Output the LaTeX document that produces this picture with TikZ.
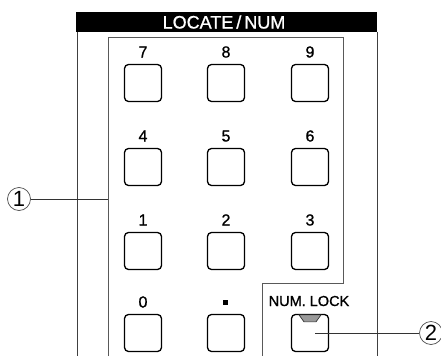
\documentclass[tikz,border=0pt]{standalone}
\usepackage{fontspec}
\setmainfont{Liberation Sans}
\newfontfamily\lblfont[FakeBold=1.0]{Liberation Sans}
\begin{document}
\begin{tikzpicture}[x=1pt,y=-1pt,
  keybox/.style={draw=black, line width=1.3pt, rounded corners=4pt, minimum width=37pt, minimum height=37pt, inner sep=0pt},
  lbl/.style={font=\lblfont\fontsize{16}{16}\selectfont, inner sep=0pt, anchor=base},
  panel/.style={draw=black!75, line width=0.9pt},
  callout/.style={circle, draw=black!70, line width=0.7pt, minimum size=23pt, inner sep=0pt, font=\fontsize{22}{22}\selectfont},
  leader/.style={draw=black!80, line width=0.8pt}]
\useasboundingbox (0,0) rectangle (441,356);
% header
\fill[black] (76,12) rectangle (377,32);
\node[text=white, font=\lblfont\fontsize{18}{18}\selectfont, inner sep=0pt, anchor=base] (hdr) at (224,28.5) {LOCATE\,/\,NUM};
% outer panel
\draw[panel] (77,32) -- (77,356);
\draw[panel] (377,32) -- (377,356);
% inner frame
\draw[panel, draw=black!65] (108,356) -- (108,37) -- (343,37) -- (343,283) -- (262,283) -- (262,356);
% keys
\foreach \n/\x/\y in {7/143/83, 8/226/83, 9/310/83, 4/143/167, 5/226/167, 6/310/167, 1/143/251, 2/226/251, 3/310/251, 0/143/333}{
  \node[keybox] (k\n) at (\x,\y) {};
  \node[lbl] (l\n) at (\x,\y-25.5) {\n};
}
\node[keybox] (kdot) at (226,333) {};
\node[fill=black, minimum size=5pt, inner sep=0pt] (ldot) at (225,302) {};
\node[keybox] (nlk) at (310,333) {};
\node[font=\lblfont\fontsize{14.5}{14.5}\selectfont, inner sep=0pt, anchor=base] (lnlk) at (309,306) {NUM. LOCK};
\filldraw[shift={(nlk.north)}, fill=black!40, draw=black!80, line width=0.7pt] (-11,1) -- (11,1) -- (6,8) -- (-6,8) -- cycle;
% callouts
\node[callout] (c1) at (19,199) {1};
\coordinate (p1) at (108,199);
\draw[leader] (c1) -- (p1);
\node[callout] (c2) at (431,333) {2};
\coordinate (p2) at (315,333);
\draw[leader] (p2) -- (c2);
\end{tikzpicture}
\end{document}
